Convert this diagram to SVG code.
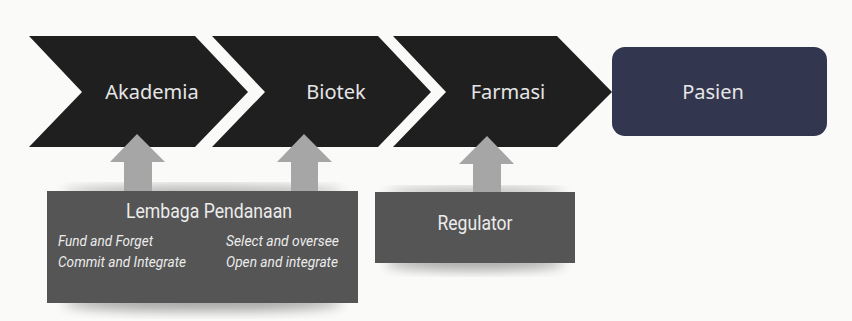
<svg xmlns="http://www.w3.org/2000/svg" width="852" height="321" viewBox="0 0 852 321">
<defs>
<filter id="blur" x="-20%" y="-50%" width="140%" height="200%"><feGaussianBlur stdDeviation="6"/></filter>
<style>
.chev{fill:#1f1f1f}
.lbl{font-family:"Noto Sans","Open Sans",sans-serif;font-size:20px;fill:#e6e6e6;text-anchor:middle}
.box{fill:#555555}
.ttl{font-family:Roboto,"Liberation Sans",sans-serif;font-size:20px;fill:#ececec;text-anchor:middle}
.it{font-family:Roboto,"Liberation Sans",sans-serif;font-size:15.5px;font-style:italic;fill:#ececec}
.arr{fill:#a6a6a6}
.shd{fill:#000;opacity:0.35}
</style>
</defs>
<rect width="852" height="321" fill="#fafaf9"/>
<g id="akademia">
<polygon class="chev" points="29,36 195,36 248,92 195,147 29,147 82,92"/>
<text class="lbl" x="152" y="99">Akademia</text>
</g>
<g id="biotek">
<polygon class="chev" points="212,36 378,36 431,92 378,147 212,147 265,92"/>
<text class="lbl" x="336" y="99">Biotek</text>
</g>
<g id="farmasi">
<polygon class="chev" points="393,36 557,36 612,92 557,147 393,147 446,92"/>
<text class="lbl" x="508" y="99">Farmasi</text>
</g>
<g id="pasien">
<rect x="612" y="47" width="215" height="89" rx="13" fill="#32364f"/>
<text class="lbl" x="713" y="99">Pasien</text>
</g>
<g id="lembaga">
<ellipse class="shd" cx="203" cy="303" rx="140" ry="8" filter="url(#blur)"/>
<ellipse class="shd" cx="203" cy="192" rx="140" ry="5" filter="url(#blur)"/>
<rect class="box" x="47" y="191" width="311" height="112"/>
<text class="ttl" x="209" y="218" textLength="166" lengthAdjust="spacingAndGlyphs">Lembaga Pendanaan</text>
<text class="it" x="58" y="246" textLength="95" lengthAdjust="spacingAndGlyphs">Fund and Forget</text>
<text class="it" x="58" y="267" textLength="128" lengthAdjust="spacingAndGlyphs">Commit and Integrate</text>
<text class="it" x="226" y="246" textLength="113" lengthAdjust="spacingAndGlyphs">Select and oversee</text>
<text class="it" x="226" y="267" textLength="112" lengthAdjust="spacingAndGlyphs">Open and integrate</text>
</g>
<g id="regulator">
<ellipse class="shd" cx="475" cy="263" rx="90" ry="7" filter="url(#blur)"/>
<ellipse class="shd" cx="475" cy="193" rx="90" ry="4" filter="url(#blur)"/>
<rect class="box" x="375" y="192" width="200" height="71"/>
<text class="ttl" x="475" y="230" textLength="75" lengthAdjust="spacingAndGlyphs">Regulator</text>
</g>
<g id="connectors">
<polygon class="arr" points="137,134 165,162 152,162 152,191 124,191 124,162 110,162"/>
<polygon class="arr" points="304,134 332,162 318,162 318,191 291,191 291,162 277,162"/>
<polygon class="arr" points="487,136 514,164 501,164 501,192 473,192 473,164 459,164"/>
</g>
</svg>
